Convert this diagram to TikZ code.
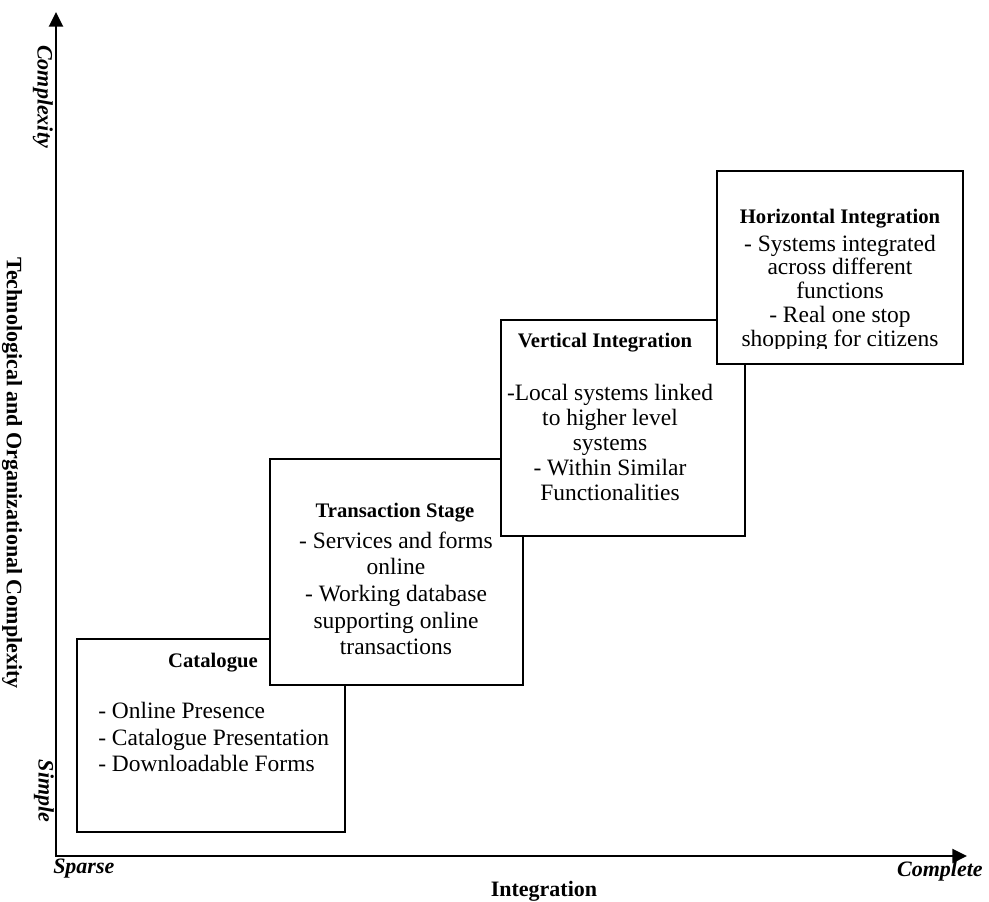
\documentclass[tikz,border=0pt]{standalone}
\usepackage{fontspec}
\setmainfont{Liberation Serif}
\usetikzlibrary{arrows.meta,calc}
\begin{document}
\begin{tikzpicture}[x=0.75pt,y=-0.75pt,
  axisline/.style={line width=1.8pt, line join=miter},
  tip/.tip={Triangle[length=11pt,width=10.5pt]},
  stagebox/.style={draw=black, line width=1.9pt, fill=white, inner sep=0pt, outer sep=0pt},
  stagetitle/.style={font=\fontsize{15.5}{18}\selectfont\bfseries, inner sep=0pt},
  stagebody/.style={font=\fontsize{17.6}{#1}\selectfont, inner sep=0pt, align=center},
  axlabel/.style={font=\fontsize{16.5}{19}\selectfont\bfseries, inner sep=0pt}]
  \useasboundingbox (0,0) rectangle (989,901);

  % axes
  \coordinate (O) at (56,856);
  \coordinate (ytip) at (56,12);
  \coordinate (xtip) at (967,856);
  \draw[axisline, tip-tip] (ytip) -- (O) -- (xtip);

  % axis labels
  \node[axlabel, rotate=-90, anchor=west] (cplx) at (43,45) {\itshape Complexity};
  \node[axlabel, rotate=-90] (simple) at (44,791) {\itshape Simple};
  \node[axlabel, rotate=-90] (ylabel) at (12,473) {Technological and Organizational Complexity};
  \node[axlabel, anchor=base west] (sparse) at (53,873) {\itshape Sparse};
  \node[axlabel, anchor=base east] (complete) at (983,876) {\itshape Complete};
  \node[axlabel, anchor=base] (xlabel) at (544,896) {Integration};

  % stage 1: catalogue
  \node[stagebox, minimum width=201pt, minimum height=144.75pt] (cat) at (211,735.5) {};
  \node[stagetitle] (cattitle) at (213,663) {Catalogue};
  \node[stagebody=20pt, align=left, anchor=west] (catbody) at (98,737)
    {- Online Presence\\- Catalogue Presentation\\- Downloadable Forms};

  % stage 2: transaction
  \node[stagebox, minimum width=189.75pt, minimum height=169.5pt] (trans) at (396.5,572) {};
  \node[stagetitle] (transtitle) at (395,513) {Transaction Stage};
  \node[stagebody=20pt] (transbody) at (396,593.5)
    {- Services and forms\\online\\- Working database\\supporting online\\transactions};

  % stage 3: vertical integration
  \node[stagebox, minimum width=183pt, minimum height=162pt] (vert) at (623,428) {};
  \node[stagetitle] (verttitle) at (605,343) {Vertical Integration};
  \node[stagebody=18.75pt] (vertbody) at (610,442)
    {-Local systems linked\\to higher level\\systems\\- Within Similar\\Functionalities};

  % stage 4: horizontal integration (last line runs into the frame)
  \node[stagebox, minimum width=184.5pt, minimum height=144.75pt] (horiz) at (840,267.5) {};
  \node[stagetitle] (horiztitle) at (840,219) {Horizontal Integration};
  \begin{scope}
    \clip (horiz.north west) rectangle ($(horiz.south east)+(0,-16)$);
    \node[stagebody=17.8pt] (horizbody) at (840,293)
      {- Systems integrated\\across different\\functions\\- Real one stop\\shopping for citizens};
  \end{scope}
\end{tikzpicture}
\end{document}
